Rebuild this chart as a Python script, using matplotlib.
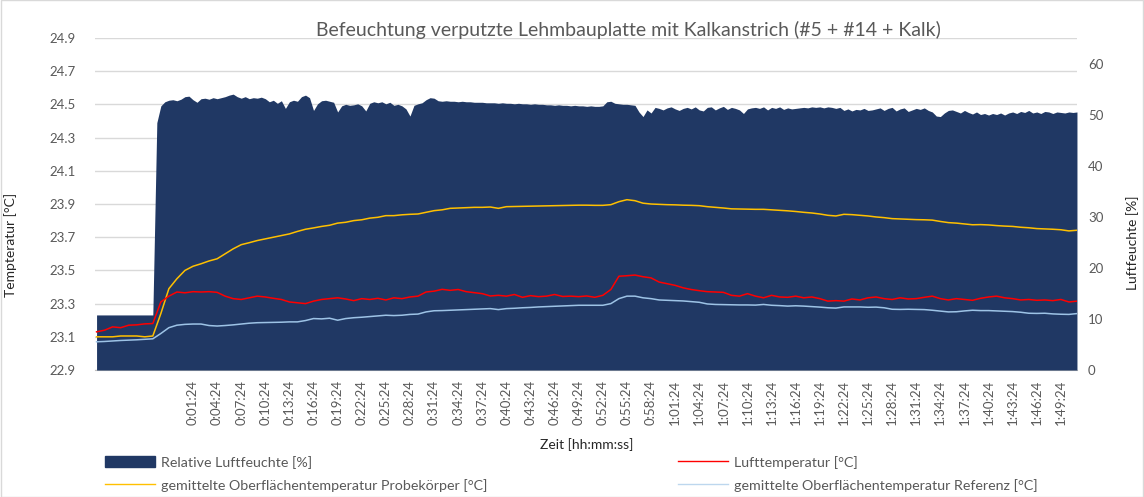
import numpy as np
import matplotlib.pyplot as plt
from matplotlib.ticker import FixedLocator, FuncFormatter
from matplotlib.patches import Patch
from matplotlib.lines import Line2D

plt.rcParams["font.family"] = ["Lato", "DejaVu Sans"]

# time base in minutes (humidity logged every 30 s, temperatures every minute)
zeit_feuchte = np.arange(-10.6, 111.45, 0.5)
zeit_temp = np.arange(-10.6, 111.45, 1.0)

feuchte = [
    10.8, 10.8, 10.8, 10.8, 10.8, 10.8, 10.8, 10.8, 10.8, 10.8, 10.8, 10.8, 10.8, 10.8, 10.8,
    48.5, 51.8, 52.6, 52.9, 53.0, 52.8, 53.1, 53.6, 53.7, 53.0,
    52.5, 53.2, 53.3, 53.1, 53.4, 53.2, 53.4, 53.6, 53.9, 54.1,
    53.6, 53.3, 53.6, 53.2, 53.4, 53.3, 53.5, 53.2, 52.6, 52.9,
    52.3, 52.8, 51.3, 52.6, 52.9, 52.7, 53.6, 53.9, 53.4, 50.9,
    52.2, 52.8, 52.9, 52.7, 52.5, 50.6, 51.8, 52.1, 51.9, 52.0,
    52.2, 51.8, 50.8, 52.3, 52.6, 52.4, 52.6, 52.2, 52.5, 51.9,
    52.1, 51.8, 51.2, 49.8, 51.9, 52.2, 52.4, 53.0, 53.4, 53.3,
    52.8, 52.7, 52.8, 52.7, 52.7, 52.6, 52.7, 52.6, 52.6, 52.5,
    52.5, 52.5, 52.4, 52.4, 52.4, 52.3, 52.4, 52.3, 52.3, 52.2,
    52.3, 52.2, 52.2, 52.1, 52.2, 52.1, 52.1, 52.0, 52.0, 51.9,
    52.0, 51.9, 51.9, 51.8, 51.9, 51.8, 51.8, 51.7, 51.8, 51.7,
    51.7, 51.8, 52.6, 52.7, 52.3, 52.2, 52.1, 52.1, 52.0, 51.9,
    50.6, 49.7, 51.0, 50.4, 51.5, 51.3, 51.0, 51.4, 51.6, 51.2,
    50.9, 51.3, 51.5, 51.2, 51.6, 51.0, 50.8, 51.5, 51.6, 51.0,
    51.4, 51.7, 51.1, 51.5, 51.3, 51.0, 50.3, 51.2, 51.4, 51.5,
    51.3, 51.6, 51.0, 51.5, 51.3, 51.6, 51.1, 51.4, 51.2, 51.3,
    51.4, 51.5, 51.4, 51.6, 51.5, 51.6, 51.4, 51.6, 51.5, 51.3,
    51.5, 50.9, 51.2, 50.8, 51.1, 51.0, 51.3, 50.9, 51.0, 51.2,
    51.4, 50.9, 51.3, 51.5, 50.8, 51.2, 51.4, 50.7, 51.0, 51.3,
    51.1, 51.4, 50.9, 50.6, 49.8, 49.7, 50.4, 50.9, 51.0, 50.7,
    50.4, 50.9, 50.5, 50.2, 50.6, 50.1, 50.3, 50.0, 50.3, 50.1,
    50.4, 50.0, 50.4, 50.6, 50.3, 50.7, 50.5, 50.9, 50.4, 50.6,
    50.3, 50.7, 50.6, 50.3, 50.6, 50.5, 50.4, 50.6, 50.5, 50.6,
]

temp_probe = [
    23.100, 23.100, 23.100, 23.105, 23.105, 23.105, 23.100, 23.105, 23.240, 23.390,
    23.450, 23.500, 23.525, 23.540, 23.557, 23.570, 23.600, 23.630, 23.655, 23.667,
    23.680, 23.690, 23.700, 23.710, 23.720, 23.735, 23.748, 23.756, 23.765, 23.772,
    23.785, 23.790, 23.800, 23.805, 23.815, 23.820, 23.830, 23.830, 23.835, 23.838,
    23.840, 23.850, 23.860, 23.865, 23.874, 23.876, 23.878, 23.880, 23.880, 23.882,
    23.874, 23.884, 23.885, 23.886, 23.887, 23.888, 23.889, 23.890, 23.891, 23.892,
    23.893, 23.893, 23.892, 23.892, 23.896, 23.914, 23.926, 23.920, 23.905, 23.900,
    23.898, 23.896, 23.895, 23.893, 23.892, 23.890, 23.884, 23.880, 23.876, 23.871,
    23.870, 23.869, 23.868, 23.868, 23.865, 23.862, 23.859, 23.855, 23.850, 23.846,
    23.840, 23.832, 23.828, 23.838, 23.836, 23.832, 23.828, 23.822, 23.818, 23.812,
    23.810, 23.808, 23.806, 23.805, 23.803, 23.795, 23.788, 23.785, 23.780, 23.775,
    23.776, 23.774, 23.770, 23.767, 23.765, 23.760, 23.757, 23.752, 23.750, 23.748,
    23.745, 23.738, 23.742,
]

temp_luft = [
    23.130, 23.140, 23.160, 23.155, 23.170, 23.172, 23.178, 23.180, 23.310, 23.345,
    23.370, 23.365, 23.372, 23.370, 23.372, 23.368, 23.345, 23.330, 23.325, 23.335,
    23.345, 23.340, 23.332, 23.325, 23.310, 23.305, 23.300, 23.315, 23.325, 23.330,
    23.335, 23.328, 23.318, 23.330, 23.325, 23.332, 23.322, 23.335, 23.330, 23.340,
    23.345, 23.370, 23.375, 23.386, 23.380, 23.385, 23.372, 23.366, 23.360, 23.346,
    23.350, 23.345, 23.355, 23.338, 23.348, 23.342, 23.345, 23.355, 23.343, 23.345,
    23.342, 23.346, 23.338, 23.350, 23.385, 23.465, 23.468, 23.472, 23.462, 23.455,
    23.430, 23.420, 23.410, 23.395, 23.385, 23.378, 23.372, 23.370, 23.368, 23.350,
    23.345, 23.360, 23.345, 23.335, 23.350, 23.340, 23.338, 23.345, 23.335, 23.340,
    23.330, 23.315, 23.318, 23.315, 23.328, 23.322, 23.335, 23.340, 23.330, 23.325,
    23.335, 23.328, 23.330, 23.338, 23.345, 23.330, 23.322, 23.330, 23.325, 23.320,
    23.332, 23.340, 23.345, 23.335, 23.330, 23.322, 23.325, 23.320, 23.322, 23.318,
    23.325, 23.310, 23.315,
]

temp_referenz = [
    23.070, 23.072, 23.075, 23.078, 23.080, 23.082, 23.085, 23.088, 23.120, 23.155,
    23.170, 23.175, 23.177, 23.177, 23.168, 23.165, 23.168, 23.172, 23.177, 23.182,
    23.185, 23.186, 23.187, 23.188, 23.190, 23.190, 23.198, 23.210, 23.208, 23.212,
    23.200, 23.210, 23.215, 23.218, 23.222, 23.226, 23.230, 23.228, 23.230, 23.235,
    23.237, 23.250, 23.257, 23.258, 23.260, 23.262, 23.264, 23.266, 23.268, 23.270,
    23.264, 23.270, 23.272, 23.275, 23.277, 23.280, 23.282, 23.284, 23.286, 23.288,
    23.290, 23.290, 23.290, 23.290, 23.300, 23.330, 23.345, 23.345, 23.335, 23.330,
    23.322, 23.320, 23.318, 23.316, 23.312, 23.308, 23.298, 23.295, 23.294, 23.293,
    23.292, 23.292, 23.291, 23.295, 23.290, 23.288, 23.285, 23.287, 23.285, 23.282,
    23.279, 23.275, 23.273, 23.280, 23.280, 23.280, 23.278, 23.279, 23.275, 23.266,
    23.265, 23.266, 23.265, 23.264, 23.260, 23.255, 23.250, 23.251, 23.256, 23.260,
    23.258, 23.258, 23.256, 23.254, 23.252, 23.248, 23.242, 23.241, 23.242, 23.238,
    23.236, 23.235, 23.240,
]

temp_ticks = np.arange(22.9, 24.95, 0.2)
feuchte_ticks = np.arange(0, 61, 10)
zeit_ticks = np.arange(1.4, 109.5, 3.0)

NAVY = "#203864"
GRAU = "#595959"


def hms(m, pos=None):
    s = int(round(m * 60))
    return f"{s // 3600}:{(s % 3600) // 60:02d}:{s % 60:02d}"


fig = plt.figure(figsize=(11.44, 4.97), dpi=100)
ax_t = fig.add_axes([0.083, 0.2555, 0.8584, 0.668])

# temperature axis in the back: grid and left ticks
ax_t.set_xlim(zeit_temp[0] - 0.2, zeit_temp[-1])
ax_t.set_ylim(22.9, 24.9)
ax_t.set_yticks(temp_ticks)
ax_t.yaxis.set_major_formatter(FuncFormatter(lambda v, p: f"{v:.1f}"))
ax_t.grid(axis="y", color="#d9d9d9", linewidth=1)
ax_t.set_axisbelow(True)
ax_t.xaxis.set_major_locator(FixedLocator(zeit_ticks))
ax_t.xaxis.set_major_formatter(FuncFormatter(hms))
ax_t.tick_params(axis="x", labelrotation=90, length=0, pad=7, labelsize=9.5, labelcolor=GRAU)
ax_t.tick_params(axis="y", length=0, pad=33, labelsize=9.5, labelcolor=GRAU)
for lbl in ax_t.get_yticklabels():
    lbl.set_horizontalalignment("left")
for side in ["top", "right", "left"]:
    ax_t.spines[side].set_visible(False)
ax_t.spines["bottom"].set_color("#bfbfbf")

# humidity area in the middle
ax_h = ax_t.twinx()
ax_h.fill_between(zeit_feuchte, 0, feuchte, color=NAVY, linewidth=0)
ax_h.set_ylim(0, 65.1)
ax_h.set_yticks(feuchte_ticks)
ax_h.tick_params(axis="y", length=0, pad=8, labelsize=9.5, labelcolor=GRAU)
for side in ax_h.spines:
    ax_h.spines[side].set_visible(False)

# temperature lines on top
ax_l = ax_t.twinx()
ax_l.set_ylim(22.9, 24.9)
ax_l.set_yticks([])
for side in ax_l.spines:
    ax_l.spines[side].set_visible(False)
ax_l.plot(zeit_temp, temp_probe, color="#ffc000", linewidth=1.1)
ax_l.plot(zeit_temp, temp_luft, color="#ff0000", linewidth=1.1)
ax_l.plot(zeit_temp, temp_referenz, color="#9dc3e6", linewidth=1.1)

fig.text(0.549, 0.94, "Befeuchtung verputzte Lehmbauplatte mit Kalkanstrich (#5 + #14 + Kalk)",
         ha="center", va="center", fontsize=14, color=GRAU)
fig.text(0.009, 0.508, "Tempteratur [°C]", rotation=90, ha="center", va="center",
         fontsize=10, color="#262626")
fig.text(0.990, 0.512, "Luftfeuchte [%]", rotation=90, ha="center", va="center",
         fontsize=10, color="#262626")
fig.text(0.513, 0.106, "Zeit [hh:mm:ss]", ha="center", va="center", fontsize=10, color="#262626")

handles = [
    Patch(facecolor=NAVY, edgecolor=NAVY),
    Line2D([], [], color="#ffc000", linewidth=1),
    Line2D([], [], color="#ff0000", linewidth=1),
    Line2D([], [], color="#bdd7ee", linewidth=1),
]
labels = [
    "Relative Luftfeuchte [%]",
    "gemittelte Oberflächentemperatur Probekörper [°C]",
    "Lufttemperatur [°C]",
    "gemittelte Oberflächentemperatur Referenz [°C]",
]
leg = fig.legend(handles, labels, ncol=2, mode="expand", frameon=False,
                 bbox_to_anchor=(0.087, 0.0, 0.825, 0.094), loc="center",
                 handlelength=3.5, handleheight=0.8, handletextpad=0.4,
                 labelspacing=0.7, fontsize=10.3, borderaxespad=0)
for t in leg.get_texts():
    t.set_color(GRAU)

fig.patches.append(plt.Rectangle((0.0005, 0.001), 0.999, 0.998, transform=fig.transFigure,
                                 fill=False, edgecolor="#d9d9d9", linewidth=1))

fig.savefig("out.png", dpi=100)
